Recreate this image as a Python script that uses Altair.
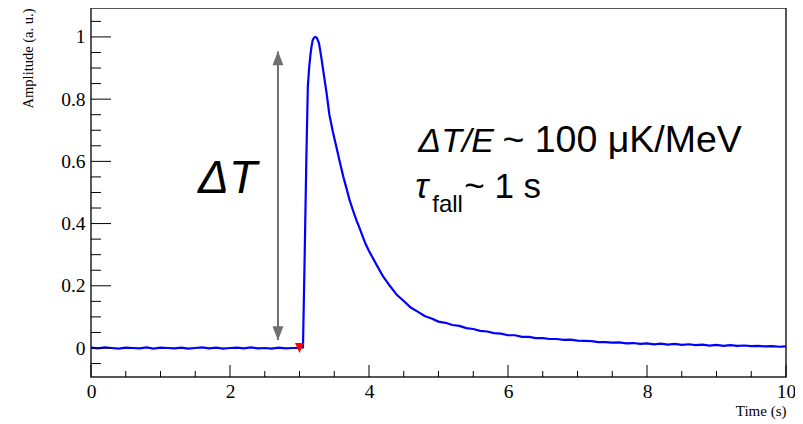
import altair as alt
import pandas as pd

# ---------------- data ----------------
time_s = [
    0.0, 0.1, 0.2, 0.3, 0.4, 0.5, 0.6, 0.7, 0.8, 0.9,
    1.0, 1.1, 1.2, 1.3, 1.4, 1.5, 1.6, 1.7, 1.8, 1.9,
    2.0, 2.1, 2.2, 2.3, 2.4, 2.5, 2.6, 2.7, 2.8, 2.9,
    3.0, 3.05, 3.075, 3.10, 3.12, 3.14, 3.16, 3.175, 3.19, 3.21,
    3.23, 3.25, 3.28, 3.31,
    3.34, 3.39, 3.43, 3.48, 3.53, 3.58, 3.63, 3.68, 3.72, 3.77,
    3.82, 3.87, 3.91, 3.95,
    4.0, 4.1, 4.2, 4.3, 4.4, 4.5, 4.6, 4.7, 4.8, 4.9,
    5.0, 5.1, 5.2, 5.3, 5.4, 5.5, 5.6, 5.7, 5.8, 5.9,
    6.0, 6.1, 6.2, 6.3, 6.4, 6.5, 6.6, 6.7, 6.8, 6.9,
    7.0, 7.1, 7.2, 7.3, 7.4, 7.5, 7.6, 7.7, 7.8, 7.9,
    8.0, 8.1, 8.2, 8.3, 8.4, 8.5, 8.6, 8.7, 8.8, 8.9,
    9.0, 9.1, 9.2, 9.3, 9.4, 9.5, 9.6, 9.7, 9.8, 9.9,
    10.0,
]
amplitude = [
    0.001, -0.001, 0.002, 0.000, -0.002, 0.001, 0.000, -0.001, 0.002, -0.002,
    0.001, 0.000, -0.001, 0.001, -0.002, 0.000, 0.002, -0.001, 0.001, -0.002,
    0.000, 0.001, -0.001, 0.002, -0.001, 0.000, -0.002, 0.001, -0.001, 0.000,
    0.000, 0.002, 0.304, 0.626, 0.840, 0.905, 0.948, 0.972, 0.990, 0.998,
    1.000, 0.997, 0.980, 0.940,
    0.894, 0.819, 0.750, 0.695, 0.647, 0.598, 0.551, 0.510, 0.476, 0.442,
    0.410, 0.382, 0.358, 0.335,
    0.312, 0.271, 0.231, 0.200, 0.171, 0.151, 0.130, 0.117, 0.103, 0.095,
    0.085, 0.081, 0.074, 0.071, 0.064, 0.061, 0.055, 0.053, 0.048, 0.046,
    0.041, 0.041, 0.036, 0.036, 0.032, 0.032, 0.029, 0.029, 0.026, 0.027,
    0.024, 0.023, 0.022, 0.019, 0.019, 0.017, 0.018, 0.015, 0.016, 0.013,
    0.015, 0.012, 0.014, 0.011, 0.013, 0.010, 0.012, 0.009, 0.011, 0.008,
    0.010, 0.007, 0.009, 0.007, 0.008, 0.006, 0.007, 0.005, 0.006, 0.004,
    0.005,
]

trigger_t = [3.0]
trigger_v = [0.0]

arrow_t = [2.69]
arrow_lo = [0.026]
arrow_hi = [0.953]
head_v = [0.932, 0.047]
head_dir = ["up", "down"]

x_major = [0, 2, 4, 6, 8, 10]
x_minor = [0.5, 1, 1.5, 2.5, 3, 3.5, 4.5, 5, 5.5, 6.5, 7, 7.5, 8.5, 9, 9.5]
y_major = [0, 0.2, 0.4, 0.6, 0.8, 1.0]
y_minor = [-0.05, 0.05, 0.1, 0.15, 0.25, 0.3, 0.35, 0.45, 0.5, 0.55,
           0.65, 0.7, 0.75, 0.85, 0.9, 0.95, 1.05]

italic_text = ["ΔT", "ΔT/E", "τ"]
italic_t = [1.54, 4.71, 4.665]
italic_v = [0.498, 0.630, 0.482]
italic_size = [46, 34, 35]

plain_text = ["~ 100 μK/MeV", "fall", "~ 1 s"]
plain_t = [5.92, 4.91, 5.37]
plain_v = [0.630, 0.437, 0.482]
plain_size = [37.5, 24, 35]

# ---------------- chart ----------------
W, H = 695, 369
xs = alt.Scale(domain=[0, 10], nice=False, zero=False)
ys = alt.Scale(domain=[-0.0932, 1.093], nice=False, zero=False)
SERIF = "Liberation Serif"
SANS = "Liberation Sans"

x_axis = alt.Axis(
    title="Time (s)", values=x_major, format="d", ticks=False, domain=False,
    grid=False, labelFont=SERIF, labelFontSize=19.5, labelColor="black",
    labelPadding=5, labelFlush=False, titleFont=SERIF, titleFontSize=15,
    titleFontWeight="normal", titleColor="black", titleAnchor="end",
    titlePadding=3)
y_axis = alt.Axis(
    title="Amplitude (a. u.)", values=y_major, format="~g", ticks=False,
    domain=False, grid=False, labelFont=SERIF, labelFontSize=19.5,
    labelColor="black", labelPadding=6, labelFlush=False, titleFont=SERIF,
    titleFontSize=14.5, titleFontWeight="normal", titleColor="black",
    titleAnchor="end", titlePadding=25)


def X(field="t"):
    return alt.X(f"{field}:Q", scale=xs, axis=x_axis, title="Time (s)")


def Y(field="v"):
    return alt.Y(f"{field}:Q", scale=ys, axis=y_axis, title="Amplitude (a. u.)")


curve_df = pd.DataFrame({"t": time_s, "v": amplitude})
curve = alt.Chart(curve_df).mark_line(color="#0000ff", strokeWidth=2.2).encode(
    x=X(), y=Y())

xticks_major = alt.Chart(pd.DataFrame({"t": x_major})).mark_rule(
    color="black", strokeWidth=1).encode(x=X(), y=alt.value(H), y2=alt.value(H - 12))
xticks_minor = alt.Chart(pd.DataFrame({"t": x_minor})).mark_rule(
    color="black", strokeWidth=1).encode(x=X(), y=alt.value(H), y2=alt.value(H - 6))
yticks_major = alt.Chart(pd.DataFrame({"v": y_major})).mark_rule(
    color="black", strokeWidth=1).encode(y=Y(), x=alt.value(0), x2=alt.value(20))
yticks_minor = alt.Chart(pd.DataFrame({"v": y_minor})).mark_rule(
    color="black", strokeWidth=1).encode(y=Y(), x=alt.value(0), x2=alt.value(10))

trigger = alt.Chart(pd.DataFrame({"t": trigger_t, "v": trigger_v})).mark_point(
    filled=True, color="#ff0000", opacity=1, size=100,
    shape="M0,1L0.9,-1L-0.9,-1Z").encode(x=X(), y=Y())

arrow_line = alt.Chart(pd.DataFrame({"t": arrow_t, "v": arrow_lo, "v2": arrow_hi})).mark_rule(
    color="#707070", strokeWidth=2).encode(x=X(), y=Y(), y2="v2:Q")

shape_map = {"up": "M0,-1L0.77,1L-0.77,1Z", "down": "M0,1L0.77,-1L-0.77,-1Z"}
heads_df = pd.DataFrame({"t": arrow_t * 2, "v": head_v,
                         "shape": [shape_map[d] for d in head_dir]})
arrow_heads = alt.Chart(heads_df).mark_point(
    filled=True, color="#707070", opacity=1, size=200).encode(
    x=X(), y=Y(), shape=alt.Shape("shape:N", scale=None))

italic_df = pd.DataFrame({"label": italic_text, "t": italic_t, "v": italic_v,
                          "size": italic_size})
italic_layer = alt.Chart(italic_df).mark_text(
    align="left", baseline="alphabetic", font=SANS, fontStyle="italic",
    color="black").encode(
    x=X(), y=Y(), text="label:N", size=alt.Size("size:Q", scale=None))

plain_df = pd.DataFrame({"label": plain_text, "t": plain_t, "v": plain_v,
                         "size": plain_size})
plain_layer = alt.Chart(plain_df).mark_text(
    align="left", baseline="alphabetic", font=SANS, color="black").encode(
    x=X(), y=Y(), text="label:N", size=alt.Size("size:Q", scale=None))

chart = alt.layer(
    curve, xticks_major, xticks_minor, yticks_major, yticks_minor,
    arrow_line, arrow_heads, trigger, italic_layer, plain_layer,
).properties(
    width=W, height=H,
    autosize=alt.AutoSizeParams(type="none"),
    padding={"left": 83, "top": 0, "right": 9, "bottom": 46},
    background="white",
).configure_view(stroke="#222222", strokeWidth=1.5)

chart.save("out.html", embed_options={"renderer": "svg", "actions": False})
